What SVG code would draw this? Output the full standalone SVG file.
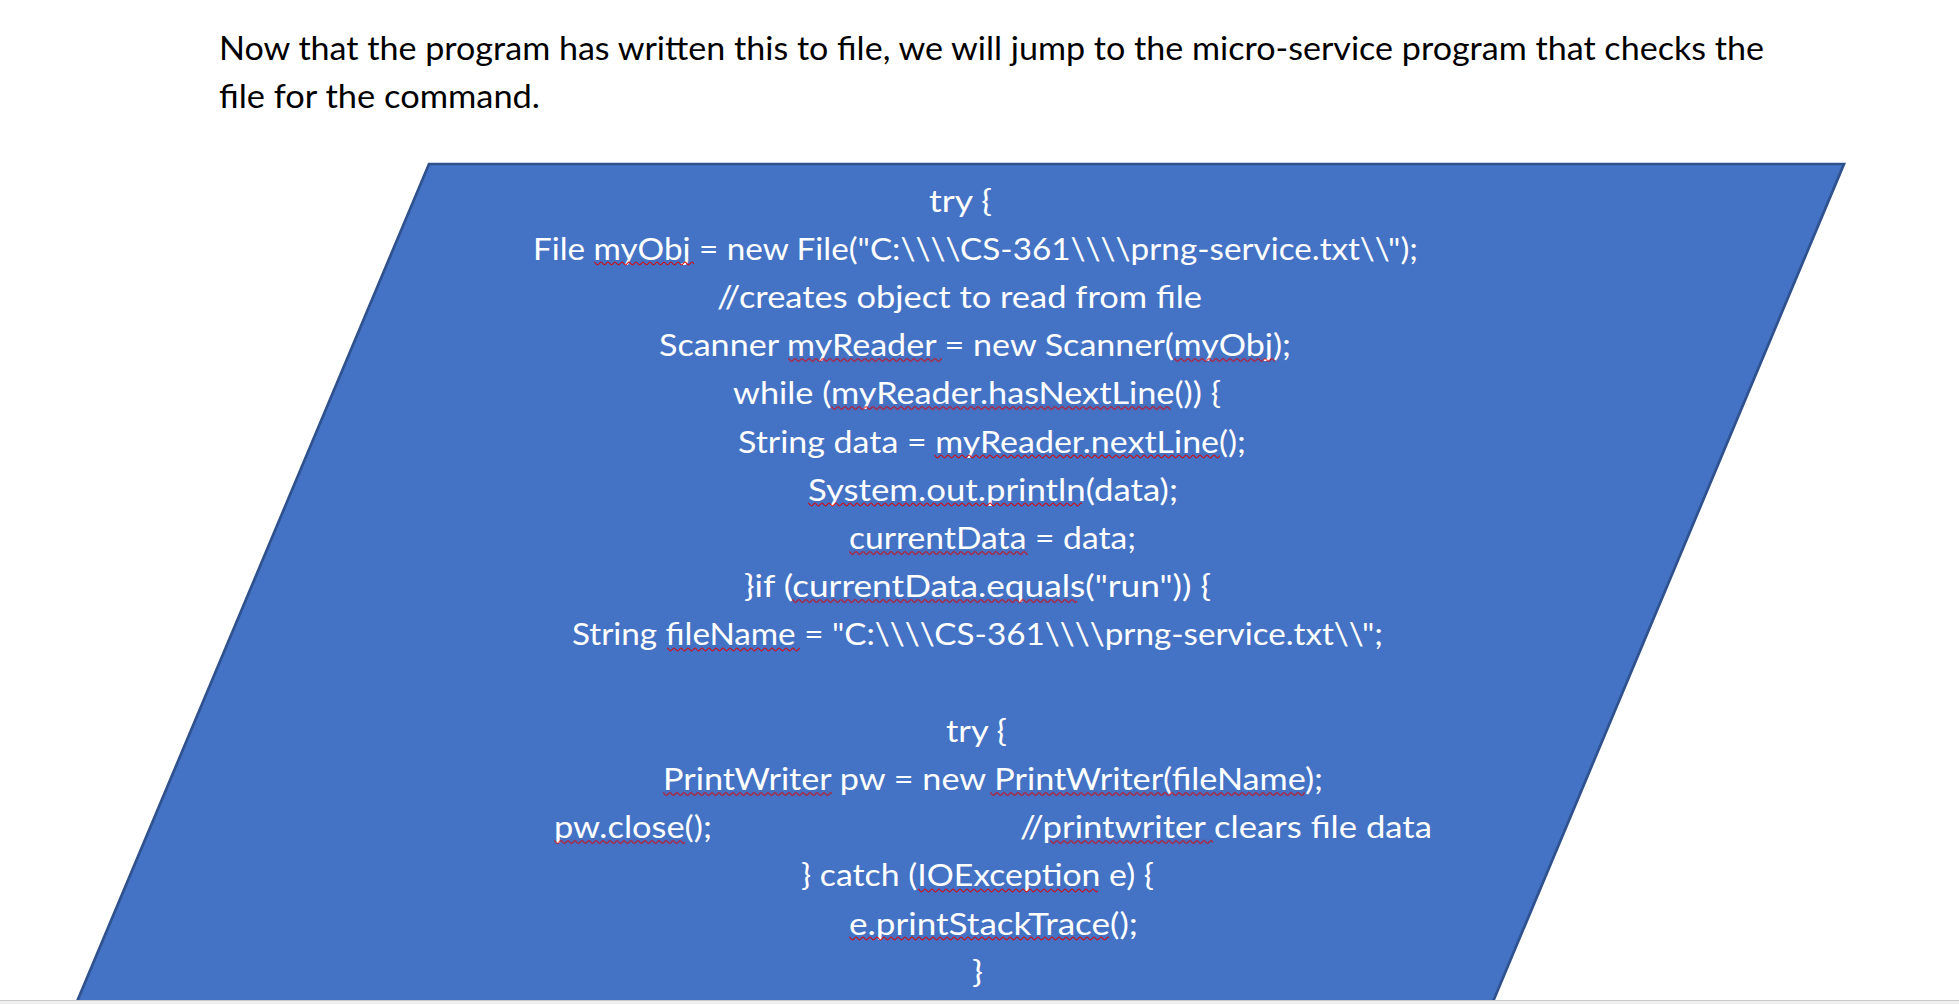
<svg xmlns="http://www.w3.org/2000/svg" width="1959" height="1004" viewBox="0 0 1959 1004">
<style>
.cap{font-family:Lato,"Liberation Sans",sans-serif;font-size:32px;fill:#000}
.code{font-family:Lato,"Liberation Sans",sans-serif;font-size:31.5px;fill:#fff}
.sq{fill:url(#sq)}
</style>
<defs>
<pattern id="sq" patternUnits="userSpaceOnUse" width="7" height="5">
<path d="M0,1 C1.2,1 2.3,4 3.5,4 C4.7,4 5.8,1 7,1" fill="none" stroke="#e00000" stroke-width="1.1"/>
</pattern>
</defs>
<rect x="0" y="0" width="1959" height="1004" fill="#fff"/>
<g id="caption">
<text class="cap" x="219" y="60" textLength="1545" lengthAdjust="spacingAndGlyphs">Now that the program has written this to file, we will jump to the micro-service program that checks the</text>
<text class="cap" x="219" y="108" textLength="321" lengthAdjust="spacingAndGlyphs">file for the command.</text>
</g>
<g id="connectors"/>
<g id="code-block">
<polygon points="429,164 1844,164 1492,1004 76,1004" fill="#4472C4" stroke="#2F528F" stroke-width="2.7"/>
<text class="code" x="929" y="211.5" textLength="63" lengthAdjust="spacingAndGlyphs">try {</text>
<text class="code" x="533" y="259.7" textLength="885" lengthAdjust="spacingAndGlyphs">File myObj = new File("C:\\\\CS-361\\\\prng-service.txt\\");</text>
<text class="code" x="717" y="307.9" textLength="485" lengthAdjust="spacingAndGlyphs">//creates object to read from file</text>
<text class="code" x="659" y="356.1" textLength="632" lengthAdjust="spacingAndGlyphs">Scanner myReader = new Scanner(myObj);</text>
<text class="code" x="733" y="404.3" textLength="488" lengthAdjust="spacingAndGlyphs">while (myReader.hasNextLine()) {</text>
<text class="code" x="738" y="452.5" textLength="508" lengthAdjust="spacingAndGlyphs">String data = myReader.nextLine();</text>
<text class="code" x="808" y="500.7" textLength="370" lengthAdjust="spacingAndGlyphs">System.out.println(data);</text>
<text class="code" x="849" y="548.9" textLength="287" lengthAdjust="spacingAndGlyphs">currentData = data;</text>
<text class="code" x="744" y="597.1" textLength="467" lengthAdjust="spacingAndGlyphs">}if (currentData.equals("run")) {</text>
<text class="code" x="572" y="645.3" textLength="811" lengthAdjust="spacingAndGlyphs">String fileName = "C:\\\\CS-361\\\\prng-service.txt\\";</text>
<text class="code" x="946" y="741.7" textLength="61" lengthAdjust="spacingAndGlyphs">try {</text>
<text class="code" x="663" y="789.9" textLength="660" lengthAdjust="spacingAndGlyphs">PrintWriter pw = new PrintWriter(fileName);</text>
<text class="code" x="554" y="838.1" textLength="158" lengthAdjust="spacingAndGlyphs">pw.close();</text>
<text class="code" x="1020" y="838.1" textLength="412" lengthAdjust="spacingAndGlyphs">//printwriter clears file data</text>
<text class="code" x="801" y="886.3" textLength="353" lengthAdjust="spacingAndGlyphs">} catch (IOException e) {</text>
<text class="code" x="849" y="934.5" textLength="289" lengthAdjust="spacingAndGlyphs">e.printStackTrace();</text>
<text class="code" x="972" y="982.7" textLength="11" lengthAdjust="spacingAndGlyphs">}</text>
</g>
<g id="spell-marks">
<rect class="sq" width="100" height="5" transform="translate(594,261)"/>
<rect class="sq" width="154" height="5" transform="translate(788,357.5)"/>
<rect class="sq" width="101" height="5" transform="translate(1174,357.5)"/>
<rect class="sq" width="340" height="5" transform="translate(831,405.5)"/>
<rect class="sq" width="286" height="5" transform="translate(934,454)"/>
<rect class="sq" width="274" height="5" transform="translate(808,502)"/>
<rect class="sq" width="179" height="5" transform="translate(849,550.5)"/>
<rect class="sq" width="285" height="5" transform="translate(792,598.5)"/>
<rect class="sq" width="133" height="5" transform="translate(667,647)"/>
<rect class="sq" width="169" height="5" transform="translate(663,791.5)"/>
<rect class="sq" width="315" height="5" transform="translate(990,791.5)"/>
<rect class="sq" width="131" height="5" transform="translate(554,839.5)"/>
<rect class="sq" width="163" height="5" transform="translate(1050,839.5)"/>
<rect class="sq" width="180" height="5" transform="translate(918,888)"/>
<rect class="sq" width="260" height="5" transform="translate(849,936)"/>
</g>
<g id="page-edge">
<rect x="0" y="1000" width="1959" height="4" fill="#f0f0f0"/>
<line x1="0" y1="1000.5" x2="1959" y2="1000.5" stroke="#c8c8c8" stroke-width="1"/>
</g>
</svg>
